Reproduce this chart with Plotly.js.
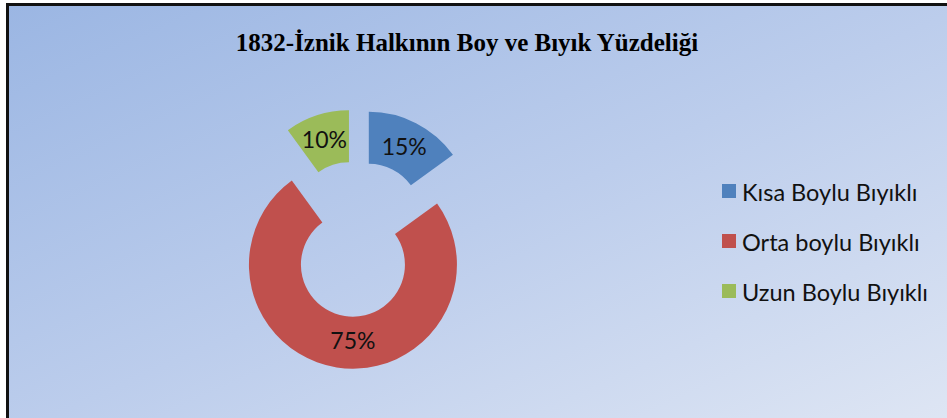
<!DOCTYPE html>
<html>
<head>
<meta charset="utf-8">
<script src="https://cdn.plot.ly/plotly-3.0.1.min.js"></script>
<style>
  html, body { margin: 0; padding: 0; background: #ffffff; overflow: hidden; }
  #frame {
    position: absolute; left: 6px; top: 3px; width: 960px; height: 430px;
    border-left: 3px solid #111; border-top: 3px solid #111;
    background: linear-gradient(to bottom right, #9bb6e3 0%, #bccdec 50%, #e0e7f4 100%);
  }
  #chart { position: absolute; left: 0; top: 0; width: 947px; height: 418px; }
</style>
</head>
<body>
<div id="frame"></div>
<div id="chart"></div>
<script>
const categories = ["Kısa Boylu Bıyıklı", "Orta boylu Bıyıklı", "Uzun Boylu Bıyıklı"];
const values = [15, 75, 10];
const colors = ["#4f81bd", "#c0504d", "#9bbb59"];
const chartTitle = "1832-İznik Halkının Boy ve Bıyık Yüzdeliği";

const W = 947, H = 418;
const px = v => v / W;
const py = v => 1 - v / H;

const trace = {
  type: "pie",
  labels: categories,
  values: values,
  hole: 0.5,
  pull: values.map(() => 0.25),
  sort: false,
  direction: "clockwise",
  rotation: 0,
  marker: { colors: colors, line: { width: 0 } },
  textinfo: "percent",
  texttemplate: "%{percent:.0%}",
  textposition: "inside",
  insidetextorientation: "horizontal",
  textfont: { family: "Lato, 'Open Sans', sans-serif", size: 23, color: "#111" },
  domain: { x: [227 / W, 487 / W], y: [49 / H, 309 / H] },
  hoverinfo: "label+percent",
  showlegend: false
};

// Legend drawn as shapes + annotations built from the category/colour arrays
const legendRowY = [191, 241, 291];
const shapes = categories.map((c, i) => ({
  type: "rect", xref: "paper", yref: "paper",
  x0: px(722), x1: px(736),
  y0: py(legendRowY[i] + 7), y1: py(legendRowY[i] - 7),
  fillcolor: colors[i], line: { width: 0 }
}));
const annotations = categories.map((c, i) => ({
  text: c, xref: "paper", yref: "paper",
  x: px(740), xanchor: "left",
  y: py(legendRowY[i] + 1), yanchor: "middle",
  showarrow: false,
  font: { family: "Lato, 'Open Sans', sans-serif", size: 23.5, color: "#111" }
}));

const layout = {
  width: W,
  height: H,
  margin: { l: 0, r: 0, t: 0, b: 0, pad: 0 },
  paper_bgcolor: "rgba(0,0,0,0)",
  plot_bgcolor: "rgba(0,0,0,0)",
  title: {
    text: chartTitle,
    x: 467 / W, xanchor: "center",
    y: py(42), yanchor: "middle",
    font: { family: "'Liberation Serif', 'Times New Roman', serif", size: 25, weight: "bold", color: "#000" }
  },
  uniformtext: { mode: "show", minsize: 23 },
  showlegend: false,
  shapes: shapes,
  annotations: annotations
};

Plotly.newPlot("chart", [trace], layout, { displayModeBar: false, staticPlot: true });
</script>
</body>
</html>
